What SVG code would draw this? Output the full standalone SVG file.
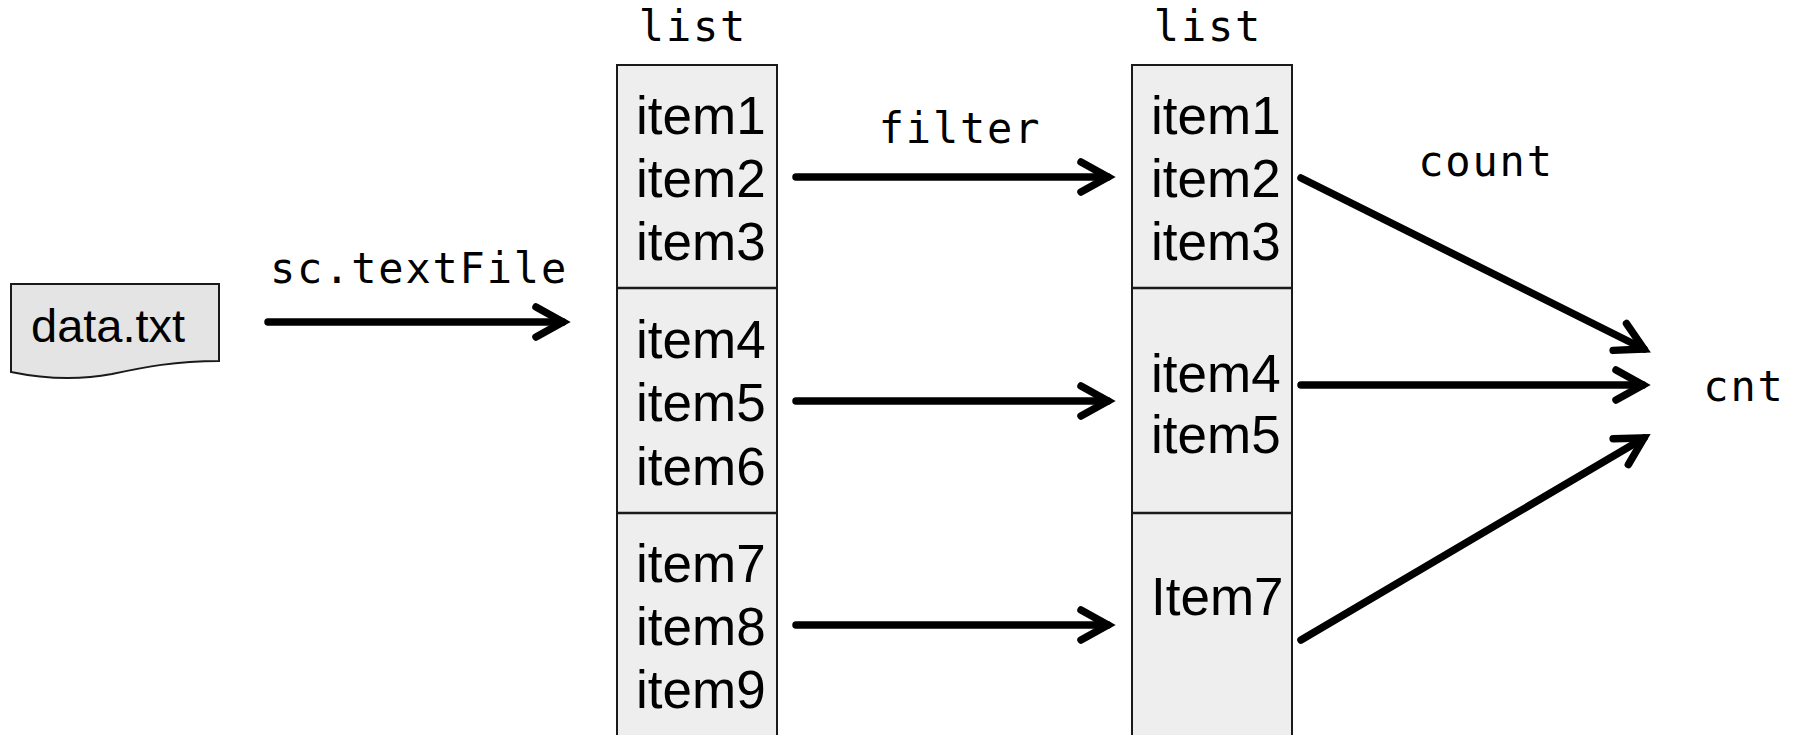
<svg xmlns="http://www.w3.org/2000/svg" width="1801" height="735" viewBox="0 0 1801 735">
  <style>
    .mono { font-family: "DejaVu Sans Mono", monospace; font-size: 42px; letter-spacing: 1.8px; fill: #000; text-anchor: middle; }
    .item { font-family: "Liberation Sans", Arial, sans-serif; font-size: 53px; fill: #000; }
    .file { font-family: "Liberation Sans", Arial, sans-serif; font-size: 47px; fill: #000; }
    .cell { fill: #eeeeee; stroke: #1a1a1a; stroke-width: 2; }
    .div { stroke: #1a1a1a; stroke-width: 2.5; }
    .edge { fill: none; stroke: #000; stroke-width: 7.5; stroke-linecap: round; marker-end: url(#chev); }
  </style>
  <defs>
    <marker id="chev" markerUnits="userSpaceOnUse" viewBox="-40 -25 50 50" markerWidth="50" markerHeight="50" refX="0" refY="0" orient="auto" overflow="visible">
      <path d="M -27 -15 L 0 0 L -27 15" fill="none" stroke="#000" stroke-width="7.5" stroke-linecap="round" stroke-linejoin="miter"/>
    </marker>
  </defs>

  <rect width="1801" height="735" fill="#ffffff"/>

  <!-- input file -->
  <g id="data-file">
    <path d="M11,284 L219,284 L219,361 C175,361 145,367 112,374 C80,380 45,379 11,372 Z" fill="#e4e4e4" stroke="#1a1a1a" stroke-width="2"/>
    <text class="file" x="31" y="342">data.txt</text>
  </g>

  <!-- first list: three partitions -->
  <g id="list-a">
    <text class="mono" x="693" y="41">list</text>
    <rect class="cell" x="617" y="65" width="160" height="680"/>
    <line class="div" x1="617" y1="288" x2="777" y2="288"/>
    <line class="div" x1="617" y1="513" x2="777" y2="513"/>
    <text class="item" x="636" y="134">item1</text>
    <text class="item" x="636" y="197">item2</text>
    <text class="item" x="636" y="260">item3</text>
    <text class="item" x="636" y="358">item4</text>
    <text class="item" x="636" y="421">item5</text>
    <text class="item" x="636" y="485">item6</text>
    <text class="item" x="636" y="582">item7</text>
    <text class="item" x="636" y="645">item8</text>
    <text class="item" x="636" y="708">item9</text>
  </g>

  <!-- filtered list -->
  <g id="list-b">
    <text class="mono" x="1208" y="41">list</text>
    <rect class="cell" x="1132" y="65" width="160" height="680"/>
    <line class="div" x1="1132" y1="288" x2="1292" y2="288"/>
    <line class="div" x1="1132" y1="513" x2="1292" y2="513"/>
    <text class="item" x="1151" y="134">item1</text>
    <text class="item" x="1151" y="197">item2</text>
    <text class="item" x="1151" y="260">item3</text>
    <text class="item" x="1151" y="392">item4</text>
    <text class="item" x="1151" y="453">item5</text>
    <text class="item" x="1151" y="615">Item7</text>
  </g>

  <!-- result -->
  <g id="cnt">
    <text class="mono" x="1744" y="401">cnt</text>
  </g>

  <!-- connectors -->
  <g id="connectors">
    <line class="edge" x1="268" y1="322" x2="563" y2="322"/>
    <text class="mono" x="419" y="283">sc.textFile</text>

    <line class="edge" x1="796" y1="177" x2="1108" y2="177"/>
    <line class="edge" x1="796" y1="401" x2="1108" y2="401"/>
    <line class="edge" x1="796" y1="625" x2="1108" y2="625"/>
    <text class="mono" x="960" y="143">filter</text>

    <line class="edge" x1="1301" y1="178" x2="1644" y2="349"/>
    <line class="edge" x1="1301" y1="385" x2="1643" y2="385"/>
    <line class="edge" x1="1301" y1="640" x2="1644" y2="438"/>
    <text class="mono" x="1486" y="176">count</text>
  </g>
</svg>
